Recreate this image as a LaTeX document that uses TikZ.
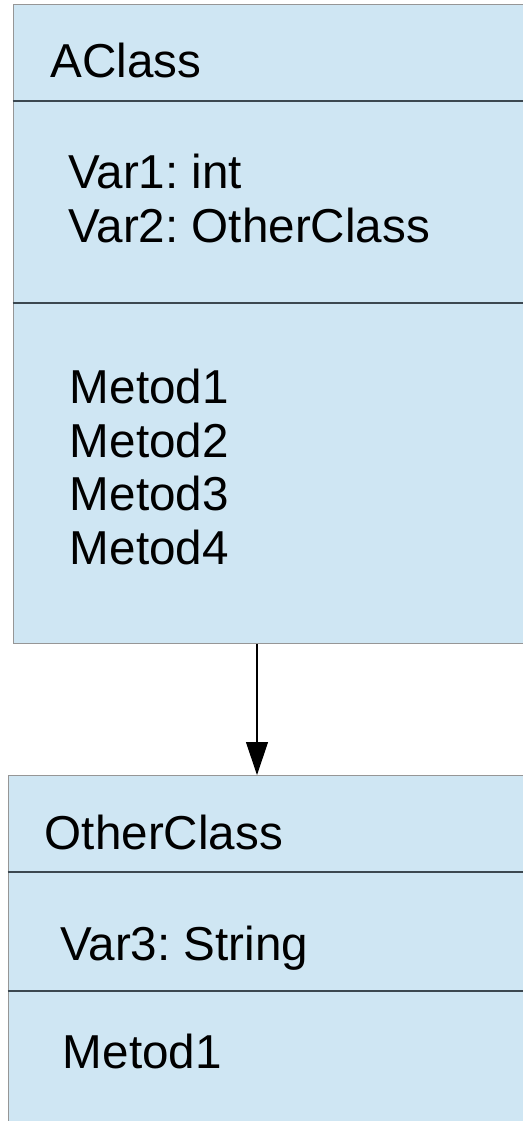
\documentclass[tikz,border=0pt]{standalone}
\usepackage{fontspec}
\setmainfont{Liberation Sans}
\usetikzlibrary{arrows.meta,positioning}
\definecolor{classfill}{RGB}{207,230,243}
\definecolor{classline}{RGB}{150,150,150}
\definecolor{divline}{RGB}{60,72,80}

\begin{document}
\frenchspacing
\begin{tikzpicture}[
  font=\fontsize{23.8pt}{26.75pt}\selectfont,
  part/.style={draw=classline, fill=classfill, line width=0.5pt, anchor=north west, inner sep=0pt},
  member/.style={inner sep=0pt, align=left},
  divider/.style={draw=divline, line width=0.6pt},
  arrow/.style={-{Triangle[length=16.5pt, width=11pt]}, line width=0.6pt}
]
\useasboundingbox (0,0) rectangle (261.5pt,-560.5pt);

% AClass
\node[part, minimum width=265pt, minimum height=48pt] (aname) at (6.25pt,-2pt) {};
\node[part, minimum width=265pt, minimum height=100.5pt, below=0pt of aname] (aattr) {};
\node[part, minimum width=265pt, minimum height=170pt, below=0pt of aattr] (aops) {};

\node[member, below right=19.5pt and 18.75pt of aname.north west] (anametext) {AClass};
\node[member, below right=26.5pt and 27.75pt of aattr.north west] (aattrtext) {Var1: int\\Var2: OtherClass};
\node[member, below right=33pt and 28.5pt of aops.north west] (aopstext) {Metod1\\Metod2\\Metod3\\Metod4};

% OtherClass
\node[part, minimum width=267.5pt, minimum height=48pt] (oname) at (3.75pt,-387.5pt) {};
\node[part, minimum width=267.5pt, minimum height=59pt, below=0pt of oname] (oattr) {};
\node[part, minimum width=267.5pt, minimum height=80pt, below=0pt of oattr] (oops) {};

\node[member, below right=20pt and 18.5pt of oname.north west] (onametext) {OtherClass};
\node[member, below right=27pt and 26.25pt of oattr.north west] (oattrtext) {Var3: String};
\node[member, below right=21.5pt and 27.5pt of oops.north west] (oopstext) {Metod1};

% compartment lines
\draw[divider] (aname.south west) -- (aname.south east);
\draw[divider] (aattr.south west) -- (aattr.south east);
\draw[divider] (oname.south west) -- (oname.south east);
\draw[divider] (oattr.south west) -- (oattr.south east);

% association
\coordinate (linkstart) at ([xshift=122.25pt]aops.south west);
\draw[arrow] (linkstart) -- (linkstart |- oname.north);

\end{tikzpicture}
\end{document}
